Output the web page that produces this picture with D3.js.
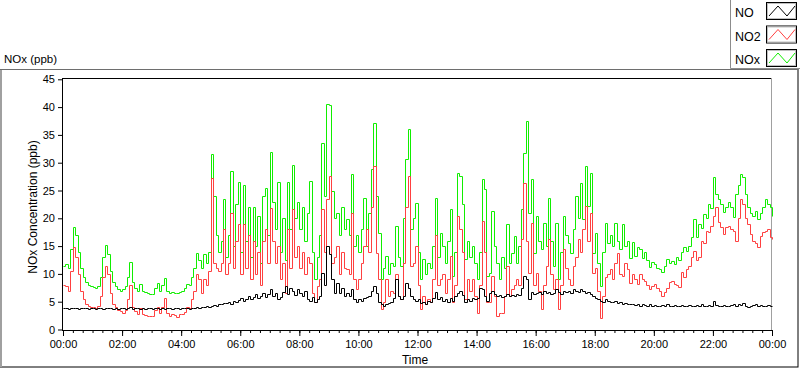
<!DOCTYPE html>
<html>
<head>
<meta charset="utf-8">
<script src="https://cdn.jsdelivr.net/npm/d3@7"></script>
<style>
  body { margin: 0; background: #fff; }
  svg { display: block; font-family: "Liberation Sans", Arial, sans-serif; }
  .tick text { font-size: 11px; fill: #000; }
  .tick line { stroke: #000; }
</style>
</head>
<body>
<script>
// samples every 5 minutes, 00:00 .. 24:00
const step_min = 5

const nox_ppb = [
    11.5, 11.8, 11.0, 14.5, 18.5, 17.0, 14.0, 11.0, 9.5, 8.5, 8.0, 7.8,
    7.7, 7.5, 7.8, 9.5, 13.0, 15.2, 13.5, 10.5, 8.5, 7.8, 7.2, 7.0,
    7.2, 7.8, 9.5, 12.2, 8.5, 7.5, 7.0, 8.2, 7.0, 6.8, 6.5, 6.4,
    6.4, 7.5, 8.3, 7.0, 8.0, 9.2, 7.0, 6.5, 6.8, 6.5, 6.6, 6.8,
    7.0, 7.5, 8.2, 8.0, 9.5, 11.0, 13.8, 12.5, 11.0, 13.5, 12.0, 14.0,
    31.5, 24, 17, 14, 16, 23.5, 13, 17, 28.5, 15, 22.5, 26.5,
    14, 26, 16, 22, 13, 22, 15, 20.5, 12, 24, 25.5, 17,
    32, 23, 18, 26.5, 14, 20, 12.5, 26.5, 18, 29.5, 20, 23,
    18, 22, 16, 21, 26.7, 14, 9, 13, 17, 33.5, 24, 40.5,
    40.3, 25, 20, 21, 17, 22, 18, 19.8, 17, 28, 15, 17,
    14, 18, 23.7, 15, 21, 28.8, 37.2, 24, 17.4, 9, 11, 13.2,
    10, 12, 11.4, 18.6, 13, 11.4, 20, 30.6, 36, 18, 20, 22.8,
    14, 9, 12.6, 10, 12, 11, 15, 23.7, 13, 17.4, 15, 12,
    16, 21.6, 9.6, 14, 28.2, 27.6, 22.5, 12.6, 16, 13, 15, 12,
    9, 14, 27, 25.2, 9.6, 10.2, 21.3, 15, 12, 9, 13, 11,
    18.9, 12, 13.8, 16.8, 12, 15, 21.6, 31.8, 37.5, 21, 27, 13.8,
    20.4, 16, 14.4, 19.2, 15, 23.7, 16, 11.4, 19.2, 9, 14, 20.4,
    17, 15.6, 13.8, 18, 24, 20, 26.4, 19.8, 29.4, 22.2, 28.2, 13.8,
    17.4, 12, 7.8, 14, 19.2, 15.6, 17, 15, 19.2, 16, 14.4, 18.9,
    15, 16, 12.9, 15.7, 13.3, 14.8, 14.5, 12.8, 13.9, 12.5, 11.2, 12.2,
    11.8, 11.0, 10.9, 10.3, 11.5, 12.7, 11.9, 12.3, 11.8, 13.0, 12.5, 14.0,
    14.8, 14.2, 15.1, 16.6, 19.9, 16.6, 19.0, 18.2, 20.8, 20.0, 22.6, 21.8,
    27.4, 24.4, 23.5, 22.6, 21.1, 22.0, 22.9, 22.0, 20.2, 24.4, 26.0, 28.0,
    27.4, 24.4, 22.0, 21.0, 20.5, 21.4, 19.9, 21.0, 22.0, 23.5, 22.5, 22.0,
    20.5
]

const no2_ppb = [
    8.0, 7.8, 7.0, 10.5, 14.8, 13.0, 10.0, 7.0, 5.5, 4.5, 4.2, 4.0,
    4.0, 3.8, 4.2, 6.0, 9.5, 11.5, 10.0, 6.5, 4.5, 4.0, 3.5, 3.3,
    3.0, 3.5, 5.5, 8.0, 4.0, 3.3, 2.8, 3.8, 2.8, 2.6, 2.4, 2.5,
    2.5, 3.5, 4.0, 3.0, 4.0, 5.6, 3.0, 2.5, 2.8, 2.6, 2.2, 2.8,
    2.8, 3.2, 4.0, 3.8, 5.5, 7.0, 10.0, 9.0, 6.5, 9.0, 8.0, 10.5,
    27.3, 12, 11, 10.5, 12, 18, 10, 12, 21, 11, 16, 19,
    10, 19, 11, 17, 9, 16, 10, 14, 8, 16, 18, 12,
    21.9, 16, 12, 15, 9, 12, 6.6, 18, 11, 21.6, 13, 15,
    11, 14, 10, 13, 12, 6.6, 5, 7.8, 9, 21.6, 14, 23.4,
    27.6, 12, 13, 15, 10, 14, 11, 10.8, 10, 21, 9, 7.2,
    9, 12, 15, 18, 14, 22, 29.4, 13.8, 9, 3.6, 5, 9,
    6, 7, 6.6, 10, 6, 5.4, 12, 22, 27.6, 11.4, 12, 15,
    8, 3.6, 6, 4.5, 5.5, 5, 9, 17, 8, 9, 10, 6.6,
    9, 13.2, 5, 8, 20.4, 18, 14, 5.4, 9, 7, 9, 6,
    3, 8, 19.5, 14, 5, 5, 9.6, 6, 2.4, 3, 3, 6,
    11.4, 6, 7.2, 8, 9, 8, 16.2, 26.4, 16, 10.2, 19.2, 8,
    10.2, 7, 3.6, 8, 11.4, 16.2, 10, 7.2, 9, 3.6, 8, 14.4,
    11, 9, 8, 11.4, 13, 16.2, 14, 18, 22.2, 16, 21, 10.2,
    11, 7, 2, 6, 9.5, 10, 10.8, 9, 12, 13.8, 10, 9.6,
    12, 10.8, 8.4, 10, 9, 8.2, 10, 9, 8.8, 8, 7.3, 7.8,
    8.2, 7.5, 7, 6.1, 6.8, 7.5, 8.5, 8.8, 8.2, 8, 7.6, 10.3,
    9.5, 10.9, 11.5, 13, 14.2, 12.5, 13, 16, 15.5, 17.8, 17.5, 18.7,
    20.5, 22, 19.3, 18.5, 17.2, 18.4, 18.7, 18.0, 17.8, 16, 20, 23.5,
    22.6, 20, 19, 17.2, 16, 15.5, 14.8, 16.9, 17.5, 17.8, 18.1, 16.6,
    16.3
]

const no_ppb = [
    3.8, 3.9, 3.7, 3.8, 3.9, 3.8, 3.7, 3.9, 3.8, 3.8, 3.7, 3.9,
    3.8, 3.7, 3.8, 3.9, 3.7, 3.8, 3.8, 3.9, 3.6, 3.8, 3.7, 3.8,
    3.9, 3.7, 3.8, 4.0, 3.7, 3.8, 3.9, 3.6, 3.8, 3.7, 3.9, 3.8,
    3.7, 3.8, 3.9, 3.7, 3.8, 3.6, 3.9, 3.8, 3.7, 3.9, 3.8, 3.7,
    3.8, 3.9, 3.8, 3.7, 3.9, 3.8, 4.0, 3.9, 4.1, 4.0, 4.2, 4.1,
    4.2, 4.4, 4.3, 4.6, 4.5, 4.8, 4.7, 5.0, 4.6, 5.2, 4.9, 5.3,
    5.7, 5.2, 5.5, 6.0, 5.4, 5.8, 6.3, 5.6, 6.0, 6.5, 5.8, 6.4,
    7.2, 6.0, 6.6, 5.5, 5.8, 6.8, 7.8, 6.4, 7.5, 7.0, 6.2, 7.2,
    6.5, 6.0, 7.0, 5.5, 5.2, 5.8, 5.0, 5.4, 6.0, 10.2, 8.0, 15.0,
    13.5, 9.0, 6.6, 8.4, 6.5, 7.5, 6.0, 6.5, 6.0, 7.2, 5.5, 5.0,
    5.4, 5.2, 5.6, 5.8, 6.0, 7.0, 7.8, 6.5, 5.0, 4.5, 4.3, 4.6,
    4.8, 5.0, 5.6, 9.0, 6.0, 5.4, 6.0, 8.4, 7.5, 6.0, 5.5, 5.2,
    5.4, 4.8, 5.0, 4.6, 5.2, 5.0, 5.6, 6.8, 5.4, 5.8, 5.2, 5.5,
    5.0, 5.6, 5.2, 6.0, 6.6, 7.0, 6.2, 5.0, 5.4, 5.2, 5.6, 5.4,
    5.6, 7.5, 7.2, 6.0, 5.1, 6.6, 7.0, 6.4, 6.0, 6.2, 5.8, 6.0,
    6.4, 6.0, 6.2, 6.0, 6.4, 6.2, 7.5, 9.6, 9.0, 5.4, 6.8, 6.4,
    6.6, 6.8, 6.4, 7.0, 6.6, 6.8, 6.4, 6.6, 7.2, 6.8, 6.4, 7.0,
    6.8, 7.0, 6.6, 7.2, 7.0, 6.8, 7.2, 7.0, 6.6, 6.8, 6.4, 6.0,
    5.6, 5.4, 5.2, 5.0, 5.4, 5.2, 5.0, 4.9, 5.1, 4.8, 4.9, 4.6,
    4.8, 4.5, 4.5, 4.6, 4.4, 4.5, 4.3, 4.5, 4.4, 4.3, 4.5, 4.2,
    4.4, 4.3, 4.2, 4.4, 4.3, 4.5, 4.2, 4.3, 4.4, 4.2, 4.3, 4.4,
    4.3, 4.2, 4.4, 4.3, 4.2, 4.4, 4.3, 4.5, 4.3, 4.2, 4.4, 4.3,
    5.2, 4.4, 4.3, 4.2, 4.4, 4.3, 4.2, 4.4, 4.5, 4.3, 4.6, 4.4,
    4.8, 4.3, 4.1, 4.2, 4.4, 4.5, 4.3, 4.4, 4.2, 4.3, 4.4, 4.3,
    4.3
]

const y_ticks = [0, 5, 10, 15, 20, 25, 30, 35, 40, 45]
const major_ticks_min = d3.range(0, 1441, 120)
const minor_ticks_min = d3.range(0, 1441, 20)

// legend order as in the picture, draw order is the reverse (NO on top)
const series = [
    { name: "NO", values: no_ppb, color: "#000000" },
    { name: "NO2", values: no2_ppb, color: "#ff4040" },
    { name: "NOx", values: nox_ppb, color: "#11ee00" }
]

pad2 = (n) => String(n).padStart(2, "0")
fmt_time = (m) => pad2(Math.floor(m / 60) % 24) + ":" + pad2(m % 60)

const svg = d3.select("body").append("svg").attr("width", 800).attr("height", 369)

// outer panel frame
svg.append("rect").attr("x", 0.5).attr("y", 69.5).attr("width", 797.5).attr("height", 297.5)
    .attr("fill", "#fff").attr("stroke", "#000")
svg.append("line").attr("x1", 1).attr("x2", 1).attr("y1", 70).attr("y2", 367)
    .attr("stroke", "#a0a0a0").attr("stroke-width", 2)
svg.append("line").attr("x1", 0).attr("x2", 798).attr("y1", 69.5).attr("y2", 69.5)
    .attr("stroke", "#6e6e6e")

svg.append("text").attr("x", 4).attr("y", 63).attr("font-size", "11.5px").text("NOx (ppb)")

const x = d3.scaleLinear().domain([0, 1440]).range([63, 772])
const y = d3.scaleLinear().domain([0, 45]).range([329.5, 79.3])

// plot frame
svg.append("line").attr("x1", 62).attr("x2", 772).attr("y1", 78.5).attr("y2", 78.5).attr("stroke", "#000")
svg.append("line").attr("x1", 771.5).attr("x2", 771.5).attr("y1", 78).attr("y2", 330).attr("stroke", "#a0a0a0")

// snap to pixel centres so the 1px strokes stay sharp and keep their colour
const line = d3.line()
    .x((d, i) => Math.round(x(i * step_min)) + 0.5)
    .y(d => Math.round(y(d)) + 0.5)
    .curve(d3.curveStepAfter)

const plot = svg.append("g")
series.slice().reverse().forEach(s => {
    plot.append("path")
        .attr("d", line(s.values))
        .attr("fill", "none")
        .attr("stroke", s.color)
        .attr("stroke-width", 1)
})

// axes
const ax_y = svg.append("g").attr("transform", "translate(62,0)")
    .call(d3.axisLeft(y).tickValues(y_ticks).tickSize(4).tickPadding(3))
ax_y.select(".domain").remove()

svg.append("g").attr("transform", "translate(0,330)")
    .call(d3.axisBottom(x).tickValues(minor_ticks_min).tickSize(3).tickFormat(""))
    .select(".domain").remove()
const ax_x = svg.append("g").attr("transform", "translate(0,330)")
    .call(d3.axisBottom(x).tickValues(major_ticks_min).tickSize(6).tickPadding(4).tickFormat(fmt_time))
ax_x.select(".domain").remove()

svg.append("line").attr("x1", 62.5).attr("x2", 62.5).attr("y1", 78).attr("y2", 331).attr("stroke", "#000")
svg.append("line").attr("x1", 62).attr("x2", 772).attr("y1", 330.5).attr("y2", 330.5).attr("stroke", "#000")

svg.append("text").attr("x", 415).attr("y", 364).attr("text-anchor", "middle")
    .attr("font-size", "12px").text("Time")
svg.append("text").attr("transform", "translate(37,207) rotate(-90)").attr("text-anchor", "middle")
    .attr("font-size", "12px").text("NOx Concentration (ppb)")

// legend
const legend = svg.append("g")
legend.append("path").attr("d", "M730.5,0 V68.5 H800").attr("fill", "none").attr("stroke", "#8c8c8c")
series.forEach((s, i) => {
    const top = 2 + i * 23.5
    const g = legend.append("g").attr("transform", `translate(0,${top})`)
    g.append("text").attr("x", 735).attr("y", 15).attr("font-size", "12.5px").text(s.name)
    g.append("rect").attr("x", 766.5).attr("y", 0.5).attr("width", 30).attr("height", 17)
        .attr("fill", "#fff").attr("stroke", "#000")
    g.append("rect").attr("x", 767.5).attr("y", 1.5).attr("width", 28).attr("height", 15)
        .attr("fill", "none").attr("stroke", "#bfbfbf")
    g.append("polyline").attr("points", "769,14 778,4 787,14 795,4")
        .attr("fill", "none").attr("stroke", s.color)
})
</script>
</body>
</html>
